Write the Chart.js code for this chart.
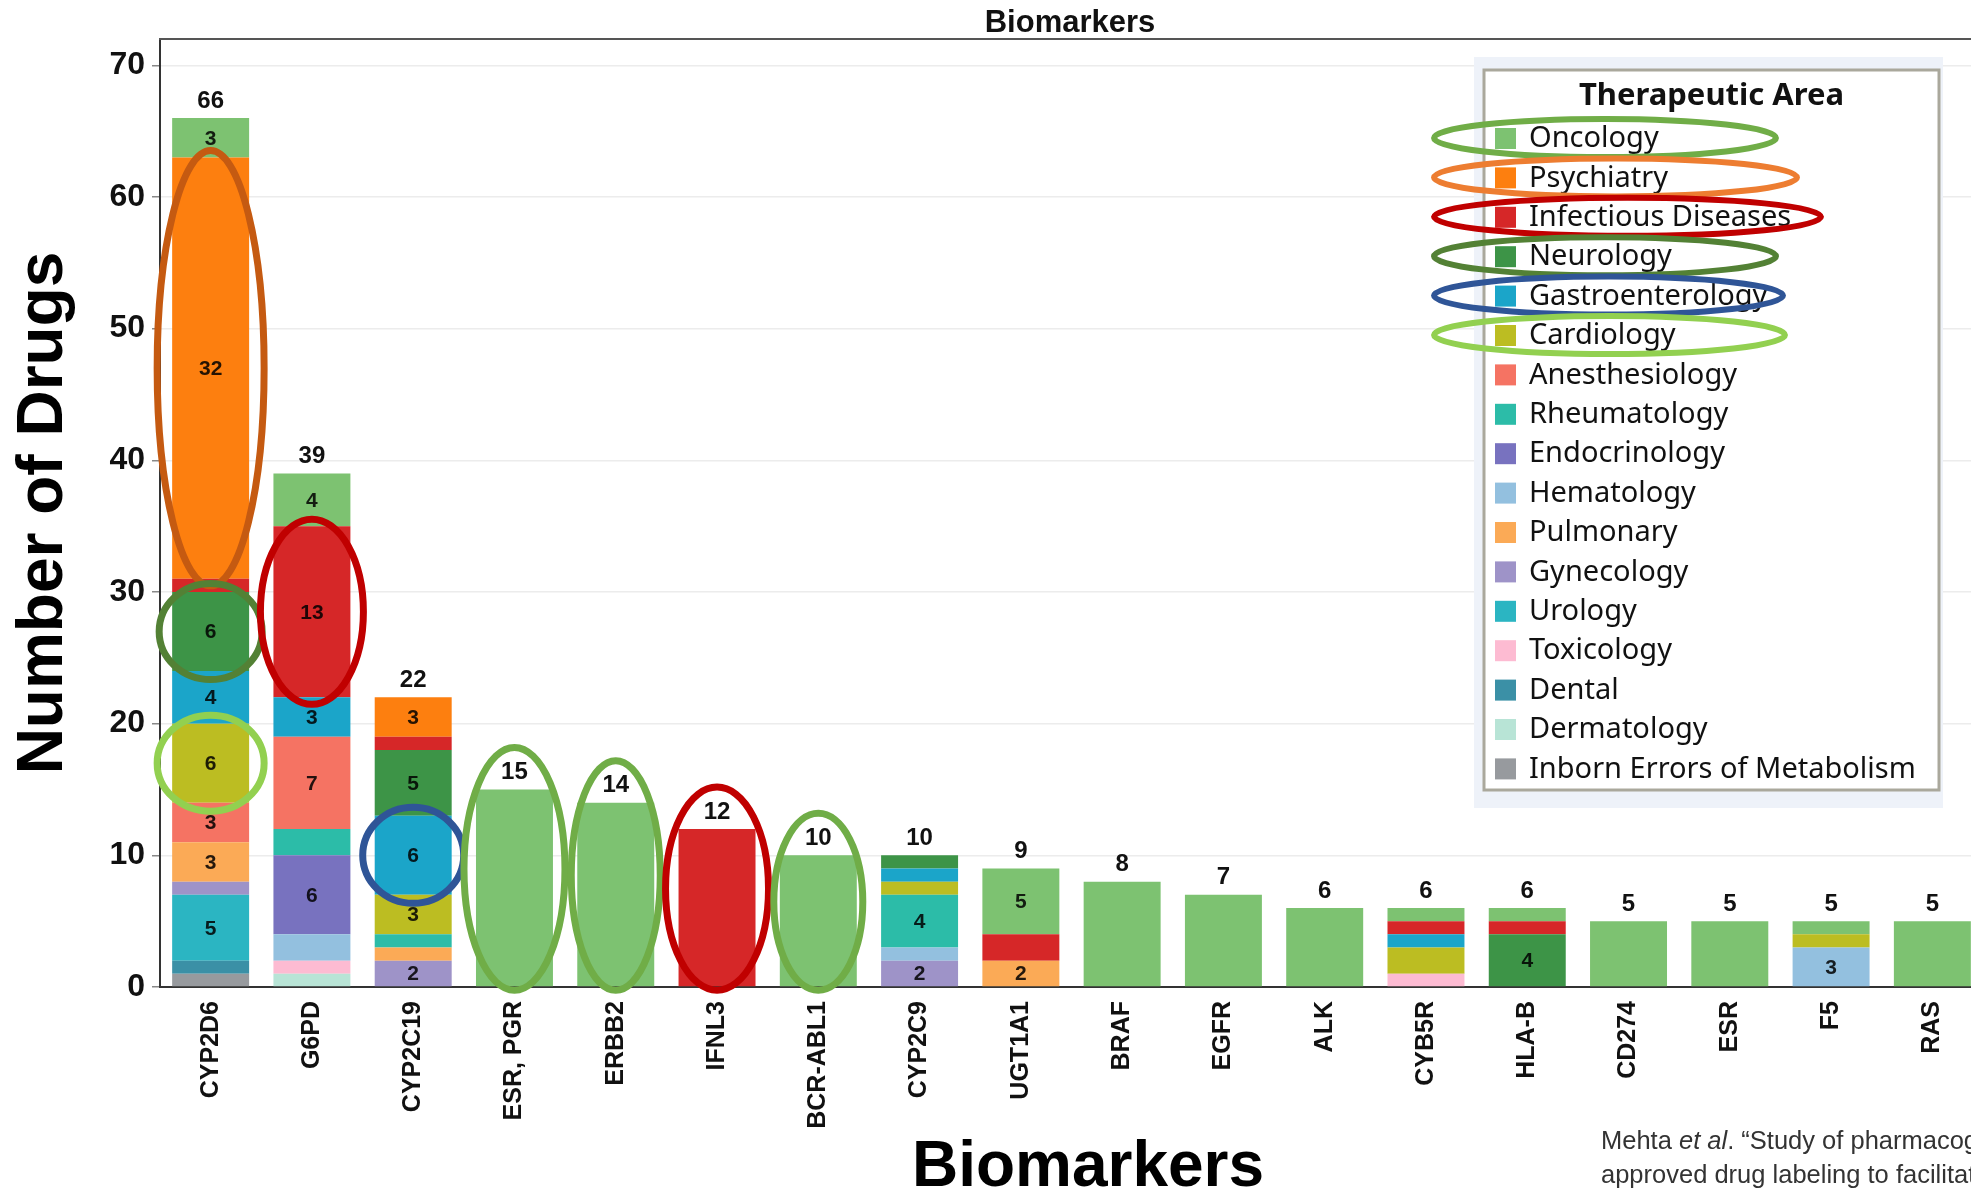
<!DOCTYPE html>
<html>
<head>
<meta charset="utf-8">
<script src="https://cdn.jsdelivr.net/npm/chart.js@4.4.0/dist/chart.umd.min.js"></script>
<style>
html, body { margin: 0; padding: 0; background: #fff; overflow: hidden; width: 1971px; height: 1192px; }
#wrap { position: absolute; left: 0; top: 0; width: 2000px; height: 1192px; }
#cite { position: absolute; left: 1601px; top: 1123px; font: 25.5px "Liberation Sans", Arial, sans-serif; color: #333; line-height: 34px; white-space: nowrap; }
</style>
</head>
<body>
<div id="wrap"><canvas id="myChart" width="2000" height="1192"></canvas></div>
<div id="cite">Mehta <i>et al</i>. “Study of pharmacogenomic information in FDA-<br>approved drug labeling to facilitate application of precision medicine”</div>
<script>
// biomarkers on the x axis
var categories = ['CYP2D6', 'G6PD', 'CYP2C19', 'ESR, PGR', 'ERBB2', 'IFNL3', 'BCR-ABL1', 'CYP2C9', 'UGT1A1',
                  'BRAF', 'EGFR', 'ALK', 'CYB5R', 'HLA-B', 'CD274', 'ESR', 'F5', 'RAS'];

// therapeutic areas, legend order (top of the stack first)
var areas = ['Oncology', 'Psychiatry', 'Infectious Diseases', 'Neurology', 'Gastroenterology', 'Cardiology',
             'Anesthesiology', 'Rheumatology', 'Endocrinology', 'Hematology', 'Pulmonary', 'Gynecology',
             'Urology', 'Toxicology', 'Dental', 'Dermatology', 'Inborn Errors of Metabolism'];

var areaColors = ['#7dc271', '#fd7f0f', '#d62728', '#3d9447', '#1ba5c9', '#bcbd22',
                  '#f57363', '#2cbca8', '#7872bf', '#93c0df', '#fbaa56', '#9e93c8',
                  '#2bb5c2', '#fdbbd2', '#3b90a6', '#b8e4d6', '#979a9e'];

// number of drugs per biomarker, one array per area
var oncology       = [3, 4, 0, 15, 14, 0, 10, 0, 5, 8, 7, 6, 1, 1, 5, 5, 1, 5];
var psychiatry     = [32, 0, 3, 0, 0, 0, 0, 0, 0, 0, 0, 0, 0, 0, 0, 0, 0, 0];
var infectious     = [1, 13, 1, 0, 0, 12, 0, 0, 2, 0, 0, 0, 1, 1, 0, 0, 0, 0];
var neurology      = [6, 0, 5, 0, 0, 0, 0, 1, 0, 0, 0, 0, 0, 4, 0, 0, 0, 0];
var gastro         = [4, 3, 6, 0, 0, 0, 0, 1, 0, 0, 0, 0, 1, 0, 0, 0, 0, 0];
var cardiology     = [6, 0, 3, 0, 0, 0, 0, 1, 0, 0, 0, 0, 2, 0, 0, 0, 1, 0];
var anesthesiology = [3, 7, 0, 0, 0, 0, 0, 0, 0, 0, 0, 0, 0, 0, 0, 0, 0, 0];
var rheumatology   = [0, 2, 1, 0, 0, 0, 0, 4, 0, 0, 0, 0, 0, 0, 0, 0, 0, 0];
var endocrinology  = [0, 6, 0, 0, 0, 0, 0, 0, 0, 0, 0, 0, 0, 0, 0, 0, 0, 0];
var hematology     = [0, 2, 0, 0, 0, 0, 0, 1, 0, 0, 0, 0, 0, 0, 0, 0, 3, 0];
var pulmonary      = [3, 0, 1, 0, 0, 0, 0, 0, 2, 0, 0, 0, 0, 0, 0, 0, 0, 0];
var gynecology     = [1, 0, 2, 0, 0, 0, 0, 2, 0, 0, 0, 0, 0, 0, 0, 0, 0, 0];
var urology        = [5, 0, 0, 0, 0, 0, 0, 0, 0, 0, 0, 0, 0, 0, 0, 0, 0, 0];
var toxicology     = [0, 1, 0, 0, 0, 0, 0, 0, 0, 0, 0, 0, 1, 0, 0, 0, 0, 0];
var dental         = [1, 0, 0, 0, 0, 0, 0, 0, 0, 0, 0, 0, 0, 0, 0, 0, 0, 0];
var dermatology    = [0, 1, 0, 0, 0, 0, 0, 0, 0, 0, 0, 0, 0, 0, 0, 0, 0, 0];
var inborn         = [1, 0, 0, 0, 0, 0, 0, 0, 0, 0, 0, 0, 0, 0, 0, 0, 0, 0];

var areaValues = [oncology, psychiatry, infectious, neurology, gastro, cardiology, anesthesiology,
                  rheumatology, endocrinology, hematology, pulmonary, gynecology, urology,
                  toxicology, dental, dermatology, inborn];

var yTicks = [0, 10, 20, 30, 40, 50, 60, 70];

// hand drawn highlight rings
var barRings = [
    { cat: 'CYP2D6', area: 'Psychiatry', color: '#c55a11', pad: 15 },
    { cat: 'CYP2D6', area: 'Neurology', color: '#538135', pad: 13 },
    { cat: 'CYP2D6', area: 'Cardiology', color: '#92d050', pad: 15 },
    { cat: 'G6PD', area: 'Infectious Diseases', color: '#c00000', pad: 13 },
    { cat: 'CYP2C19', area: 'Gastroenterology', color: '#2f5597', pad: 12 },
    { cat: 'ESR, PGR', area: 'Oncology', color: '#70ad47', pad: 12, whole: true },
    { cat: 'ERBB2', area: 'Oncology', color: '#70ad47', pad: 6, whole: true },
    { cat: 'IFNL3', area: 'Infectious Diseases', color: '#c00000', pad: 13, whole: true },
    { cat: 'BCR-ABL1', area: 'Oncology', color: '#70ad47', pad: 6, whole: true }
];
var legendRings = [
    { area: 'Oncology', color: '#70ad47', w: 342 },
    { area: 'Psychiatry', color: '#ed7d31', w: 363 },
    { area: 'Infectious Diseases', color: '#c00000', w: 387 },
    { area: 'Neurology', color: '#538135', w: 342 },
    { area: 'Gastroenterology', color: '#2f5597', w: 349 },
    { area: 'Cardiology', color: '#92d050', w: 351 }
];

var SANS = '"Liberation Sans", Arial, sans-serif';
var LEG = '"Noto Sans", "Open Sans", sans-serif';

// stack bottom first, so Oncology ends on top
var datasets = [];
for (var a = areas.length - 1; a >= 0; a--) {
    datasets.push({
        label: areas[a],
        data: areaValues[a],
        backgroundColor: areaColors[a],
        borderWidth: 0,
        barPercentage: 0.76,
        categoryPercentage: 1
    });
}

function totalOf(i) {
    var t = 0;
    areaValues.forEach(function(arr) { t += arr[i]; });
    return t;
}

function ring(ctx, cx, cy, rx, ry, color, lw) {
    ctx.beginPath();
    ctx.ellipse(cx, cy, rx, ry, 0, 0, Math.PI * 2);
    ctx.strokeStyle = color;
    ctx.lineWidth = lw;
    ctx.stroke();
}

var extras = {
    id: 'extras',
    afterDatasetsDraw: function(chart) {
        var ctx = chart.ctx, xs = chart.scales.x, ys = chart.scales.y, ca = chart.chartArea;
        ctx.save();

        // segment labels
        ctx.font = 'bold 21px ' + SANS;
        ctx.fillStyle = 'rgba(0,0,0,0.85)';
        ctx.textAlign = 'center';
        ctx.textBaseline = 'middle';
        categories.forEach(function(c, i) {
            var used = chart.data.datasets.filter(function(ds) { return ds.data[i] > 0; });
            if (used.length < 2) return;
            chart.data.datasets.forEach(function(ds, d) {
                var v = ds.data[i];
                if (!v) return;
                if (v >= 3 || (v === 2 && ds === used[0])) {
                    var el = chart.getDatasetMeta(d).data[i];
                    ctx.fillText(v, el.x, (el.y + el.base) / 2 + 1);
                }
            });
        });

        // totals
        ctx.font = 'bold 24px ' + SANS;
        ctx.fillStyle = '#111';
        ctx.textBaseline = 'bottom';
        categories.forEach(function(c, i) {
            var t = totalOf(i);
            ctx.fillText(t, xs.getPixelForValue(i), ys.getPixelForValue(t) - 5);
        });

        // frame line on top of the plot
        ctx.strokeStyle = '#555';
        ctx.lineWidth = 2;
        ctx.beginPath();
        ctx.moveTo(ca.left - 1, ca.top);
        ctx.lineTo(chart.width, ca.top);
        ctx.stroke();

        // chart title and x axis title
        ctx.fillStyle = '#111';
        ctx.textBaseline = 'middle';
        ctx.font = 'bold 31px ' + SANS;
        ctx.fillText('Biomarkers', 1070, 23);
        ctx.fillStyle = '#000';
        ctx.textBaseline = 'alphabetic';
        ctx.font = 'bold 64px ' + SANS;
        ctx.fillText('Biomarkers', 1088, 1186);
        ctx.restore();
    },
    afterDraw: function(chart) {
        var ctx = chart.ctx;
        ctx.save();

        // legend box
        var bx = 1484, by = 70, bw = 455, bh = 720;
        ctx.fillStyle = '#eef2f9';
        ctx.fillRect(bx - 10, by - 13, bw + 14, bh + 31);
        ctx.fillStyle = '#fff';
        ctx.fillRect(bx, by, bw, bh);
        ctx.strokeStyle = '#aaa89c';
        ctx.lineWidth = 3;
        ctx.strokeRect(bx, by, bw, bh);

        ctx.fillStyle = '#111';
        ctx.textAlign = 'center';
        ctx.textBaseline = 'middle';
        ctx.font = 'bold 31px ' + LEG;
        ctx.fillText('Therapeutic Area', bx + bw / 2, 96);

        var rowY = {};
        ctx.textAlign = 'left';
        ctx.font = '29px ' + LEG;
        areas.forEach(function(name, k) {
            var y = 138 + k * 39.4;
            rowY[name] = y;
            ctx.fillStyle = areaColors[k];
            ctx.fillRect(bx + 11, y - 10, 21, 21);
            ctx.fillStyle = '#111';
            ctx.fillText(name, bx + 45, y + 1);
        });

        // rings round the bars
        barRings.forEach(function(r) {
            var i = categories.indexOf(r.cat);
            var d = areas.length - 1 - areas.indexOf(r.area);
            var el = chart.getDatasetMeta(d).data[i];
            var rx = el.width / 2 + r.pad;
            var top = el.y, bot = el.base;
            var ry;
            if (r.whole) {
                top -= 42; bot += 4;
                ry = (bot - top) / 2;
            } else {
                ry = Math.max((bot - top) / 2 + 7, 48);
            }
            ring(ctx, el.x, (top + bot) / 2, rx, ry, r.color, 7);
        });

        // rings round the legend rows
        legendRings.forEach(function(r) {
            var left = bx - 50;
            ring(ctx, left + r.w / 2, rowY[r.area], r.w / 2, 19, r.color, 6);
        });
        ctx.restore();
    }
};

var ctx = document.getElementById('myChart').getContext('2d');
var chart = new Chart(ctx, {
    type: 'bar',
    data: {
        labels: categories,
        datasets: datasets
    },
    options: {
        responsive: false,
        animation: false,
        layout: { padding: { top: 39, right: 17, left: 0, bottom: 0 } },
        plugins: {
            legend: { display: false },
            tooltip: { enabled: false },
            title: { display: false }
        },
        scales: {
            x: {
                stacked: true,
                grid: { display: false },
                border: { display: true, color: '#333', width: 2 },
                ticks: {
                    autoSkip: false,
                    minRotation: 90,
                    maxRotation: 90,
                    padding: 6,
                    color: '#111',
                    font: { family: SANS, size: 25, weight: 'bold' }
                },
                afterFit: function(scale) { scale.height = 205; }
            },
            y: {
                stacked: true,
                min: 0,
                max: 72,
                afterBuildTicks: function(axis) {
                    axis.ticks = yTicks.map(function(v) { return { value: v }; });
                },
                grid: { color: '#ececec', tickColor: '#888', tickLength: 8, lineWidth: 1.5 },
                border: { display: true, color: '#333', width: 2 },
                ticks: {
                    padding: 7,
                    color: '#111',
                    font: { family: SANS, size: 32, weight: 'bold' }
                },
                title: {
                    display: true,
                    text: 'Number of Drugs',
                    color: '#000',
                    font: { family: SANS, size: 64, weight: 'bold', lineHeight: 1 },
                    padding: { top: 12, bottom: 0 }
                },
                afterFit: function(scale) { scale.width = 160; }
            }
        }
    },
    plugins: [extras]
});
</script>
</body>
</html>
